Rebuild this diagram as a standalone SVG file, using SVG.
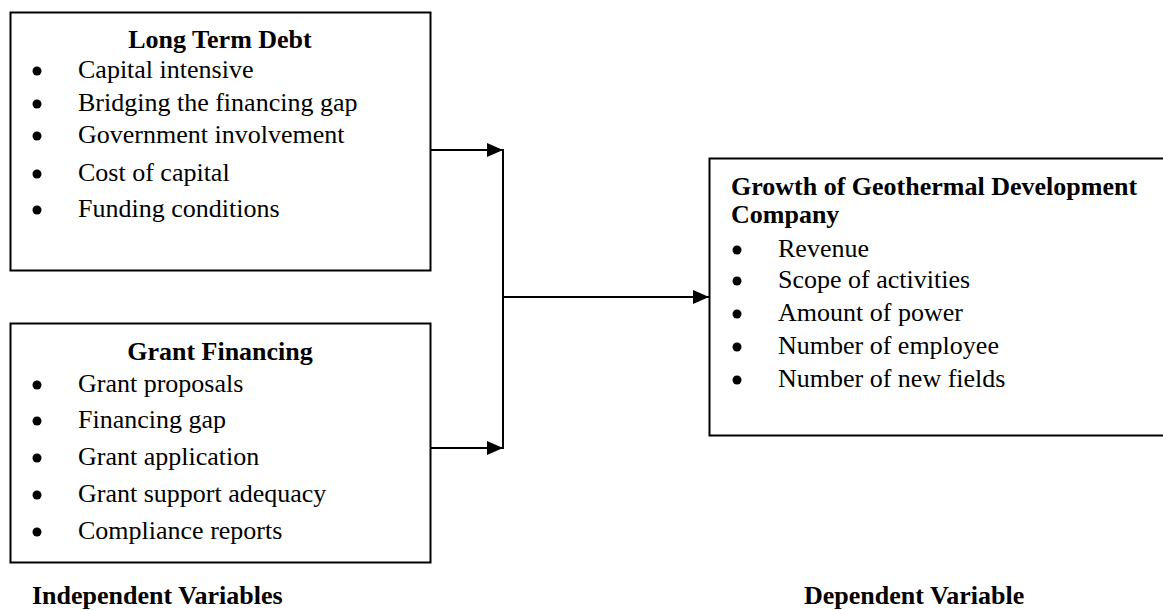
<svg xmlns="http://www.w3.org/2000/svg" width="1163" height="611" viewBox="0 0 1163 611">
<style>
.box{fill:#fff;stroke:#000;stroke-width:2}
.t{font-family:"Liberation Serif","Times New Roman",serif;font-size:26px;fill:#000}
.b{font-weight:bold}
.c{text-anchor:middle}
.conn{stroke:#000;stroke-width:2;fill:none}
.dot{fill:#000}
</style>
<defs>
<marker id="arr" markerUnits="userSpaceOnUse" markerWidth="17" markerHeight="15" refX="16" refY="7" orient="auto">
<path d="M0,0 L16,7 L0,14 z" fill="#000"/>
</marker>
</defs>
<rect width="1163" height="611" fill="#fff"/>
<g id="connectors">
<line class="conn" x1="430" y1="150" x2="503" y2="150" marker-end="url(#arr)"/>
<line class="conn" x1="430" y1="448" x2="503" y2="448" marker-end="url(#arr)"/>
<line class="conn" x1="503" y1="149" x2="503" y2="449"/>
<line class="conn" x1="503" y1="297" x2="709" y2="297" marker-end="url(#arr)"/>
</g>
<g id="long-term-debt">
<rect class="box" x="10.5" y="12.5" width="420" height="258"/>
<text class="t b c" x="220" y="48">Long Term Debt</text>
<circle class="dot" cx="37" cy="71" r="4.5"/>
<text class="t" x="78" y="78">Capital intensive</text>
<circle class="dot" cx="37" cy="104" r="4.5"/>
<text class="t" x="78" y="111">Bridging the financing gap</text>
<circle class="dot" cx="37" cy="136" r="4.5"/>
<text class="t" x="78" y="143">Government involvement</text>
<circle class="dot" cx="37" cy="174" r="4.5"/>
<text class="t" x="78" y="181">Cost of capital</text>
<circle class="dot" cx="37" cy="210" r="4.5"/>
<text class="t" x="78" y="217">Funding conditions</text>
</g>
<g id="grant-financing">
<rect class="box" x="10.5" y="323.5" width="420" height="239"/>
<text class="t b c" x="220" y="360">Grant Financing</text>
<circle class="dot" cx="37" cy="385" r="4.5"/>
<text class="t" x="78" y="392">Grant proposals</text>
<circle class="dot" cx="37" cy="421" r="4.5"/>
<text class="t" x="78" y="428">Financing gap</text>
<circle class="dot" cx="37" cy="458" r="4.5"/>
<text class="t" x="78" y="465">Grant application</text>
<circle class="dot" cx="37" cy="495" r="4.5"/>
<text class="t" x="78" y="502">Grant support adequacy</text>
<circle class="dot" cx="37" cy="532" r="4.5"/>
<text class="t" x="78" y="539">Compliance reports</text>
</g>
<g id="growth-gdc">
<rect class="box" x="709.5" y="158.5" width="470" height="277"/>
<text class="t b" x="731" y="195">Growth of Geothermal Development</text>
<text class="t b" x="731" y="223">Company</text>
<circle class="dot" cx="737" cy="250" r="4.5"/>
<text class="t" x="778" y="257">Revenue</text>
<circle class="dot" cx="737" cy="281" r="4.5"/>
<text class="t" x="778" y="288">Scope of activities</text>
<circle class="dot" cx="737" cy="314" r="4.5"/>
<text class="t" x="778" y="321">Amount of power</text>
<circle class="dot" cx="737" cy="347" r="4.5"/>
<text class="t" x="778" y="354">Number of employee</text>
<circle class="dot" cx="737" cy="380" r="4.5"/>
<text class="t" x="778" y="387">Number of new fields</text>
</g>
<g id="labels">
<text class="t b" x="32" y="604">Independent Variables</text>
<text class="t b" x="804" y="604">Dependent Variable</text>
</g>
</svg>
